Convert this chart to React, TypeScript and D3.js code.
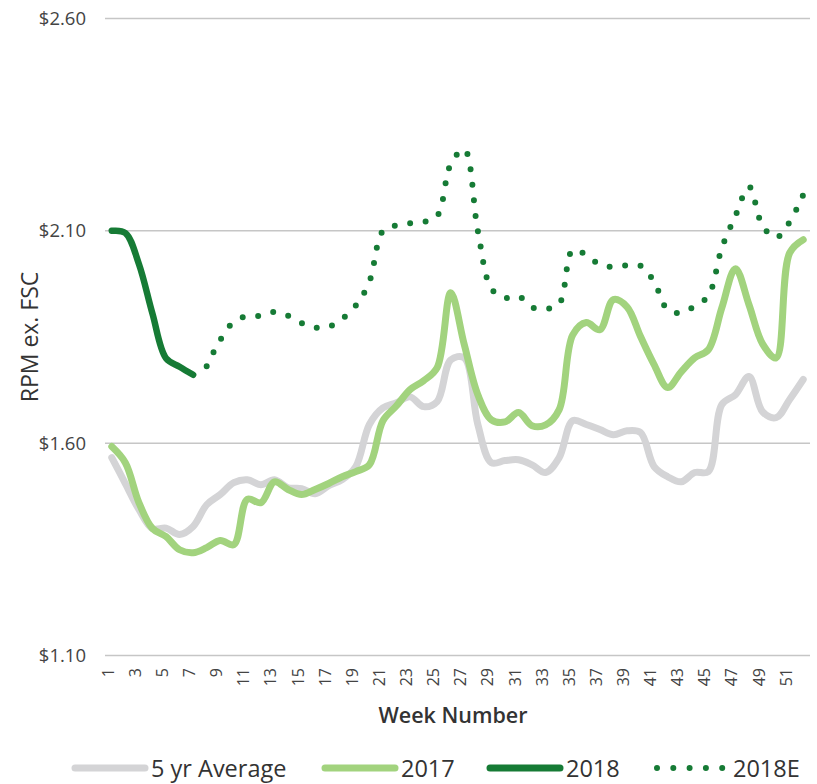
import React, { useEffect, useRef } from 'react';
import * as d3 from 'd3';

const weeks = d3.range(1, 53);
const yTicks = [1.1, 1.6, 2.1, 2.6];

const avg5yr = [
  1.566, 1.505, 1.444, 1.399, 1.4, 1.385, 1.404, 1.455, 1.479, 1.507,
  1.514, 1.502, 1.514, 1.495, 1.493, 1.481, 1.5, 1.514, 1.545, 1.644,
  1.683, 1.695, 1.709, 1.686, 1.698, 1.796, 1.801, 1.644, 1.554, 1.559,
  1.561, 1.549, 1.531, 1.566, 1.653, 1.644, 1.632, 1.62, 1.629, 1.625,
  1.545, 1.521, 1.509, 1.531, 1.533, 1.691, 1.714, 1.757, 1.674, 1.66,
  1.703, 1.75,
];

const y2017 = [
  1.592, 1.554, 1.46, 1.399, 1.38, 1.349, 1.342, 1.354, 1.371, 1.361,
  1.468, 1.46, 1.509, 1.491, 1.479, 1.491, 1.505, 1.521, 1.533, 1.549,
  1.653, 1.688, 1.726, 1.747, 1.778, 1.954, 1.832, 1.714, 1.655, 1.65,
  1.672, 1.641, 1.643, 1.679, 1.855, 1.884, 1.867, 1.938, 1.921, 1.851,
  1.785, 1.731, 1.768, 1.801, 1.82, 1.919, 2.011, 1.926, 1.834, 1.801,
  2.048, 2.079,
];

// actual 2018, weeks 1-7
const y2018 = [2.1, 2.095, 2.022, 1.905, 1.8, 1.78, 1.761];

// estimate, weeks 8-52
const y2018E = [
  1.781, 1.843, 1.886, 1.899, 1.9, 1.909, 1.9, 1.883, 1.872, 1.874,
  1.893, 1.924, 1.98, 2.1, 2.113, 2.118, 2.121, 2.135, 2.257, 2.292,
  2.1, 1.964, 1.942, 1.946, 1.92, 1.916, 1.928, 2.055, 2.043, 2.02,
  2.015, 2.019, 2.018, 1.98, 1.914, 1.907, 1.923, 1.947, 2.06, 2.135,
  2.204, 2.112, 2.084, 2.121, 2.185,
];

const C_AVG = '#d4d4d6';
const C_2017 = '#a2d37e';
const C_2018 = '#167b35';
const FONT = '"Open Sans", sans-serif';

export default function App() {
  const svgRef = useRef<SVGSVGElement>(null);

  useEffect(() => {
    if (!svgRef.current) return;
    const svg = d3.select(svgRef.current);
    svg.selectAll('*').remove();

    const x = d3.scalePoint<number>().domain(weeks).range([105, 810]).padding(0.5);
    const y = d3.scaleLinear().domain([1.1, 2.6]).range([655.5, 18.5]);

    // gridlines + y labels
    const grid = svg.append('g');
    yTicks.forEach(t => {
      grid.append('line')
        .attr('x1', 105).attr('x2', 810)
        .attr('y1', y(t)).attr('y2', y(t))
        .attr('stroke', '#c6c6c6').attr('stroke-width', 1.5);
      grid.append('text')
        .attr('x', 86).attr('y', y(t) + 6.5)
        .attr('text-anchor', 'end').attr('font-size', 18.5)
        .attr('fill', '#444').attr('font-family', FONT)
        .text(`$${t.toFixed(2)}`);
    });

    // x tick labels (odd weeks)
    weeks.filter(w => w % 2 === 1).forEach(w => {
      svg.append('text')
        .attr('transform', `translate(${x(w)! + 2},668) rotate(-90)`)
        .attr('text-anchor', 'end').attr('font-size', 16)
        .attr('fill', '#444').attr('font-family', FONT)
        .text(String(w));
    });

    const draw = (vals: number[], start: number, color: string, width: number, dash?: string) => {
      const gen = d3.line<number>()
        .x((_, i) => x(start + i)!)
        .y(d => y(d))
        .curve(d3.curveCatmullRom.alpha(0.5));
      const p = svg.append('path')
        .attr('d', gen(vals))
        .attr('fill', 'none')
        .attr('stroke', color)
        .attr('stroke-width', width)
        .attr('stroke-linecap', 'round')
        .attr('stroke-linejoin', 'round');
      if (dash) p.attr('stroke-dasharray', dash);
    };

    draw(avg5yr, 1, C_AVG, 7);
    draw(y2017, 1, C_2017, 7);
    draw(y2018, 1, C_2018, 6.5);
    draw(y2018E, 8, C_2018, 6, '0 15.6');

    // axis titles
    svg.append('text')
      .attr('transform', 'translate(38,337) rotate(-90)')
      .attr('text-anchor', 'middle').attr('font-size', 23)
      .attr('fill', '#333').attr('font-family', FONT)
      .text('RPM ex. FSC');
    svg.append('text')
      .attr('x', 453).attr('y', 723)
      .attr('text-anchor', 'middle').attr('font-size', 21.5).attr('font-weight', 600)
      .attr('fill', '#333').attr('font-family', FONT)
      .text('Week Number');

    // legend
    const legend = [
      { label: '5 yr Average', color: C_AVG, x0: 75, dash: undefined as string | undefined },
      { label: '2017', color: C_2017, x0: 325, dash: undefined },
      { label: '2018', color: C_2018, x0: 490, dash: undefined },
      { label: '2018E', color: C_2018, x0: 657, dash: '0 16.3' },
    ];
    const lg = svg.append('g');
    legend.forEach(l => {
      lg.append('line')
        .attr('x1', l.x0).attr('x2', l.x0 + (l.dash ? 65.2 : 70))
        .attr('y1', 768).attr('y2', 768)
        .attr('stroke', l.color).attr('stroke-width', l.dash ? 6 : 7)
        .attr('stroke-linecap', 'round')
        .attr('stroke-dasharray', l.dash ?? null);
      lg.append('text')
        .attr('x', l.x0 + 76).attr('y', 777)
        .attr('font-size', 23.5)
        .attr('fill', '#333').attr('font-family', FONT)
        .text(l.label);
    });
  }, []);

  return (
    <svg
      ref={svgRef}
      width={817}
      height={784}
      style={{ position: 'absolute', left: 0, top: 0, background: '#fff' }}
    />
  );
}
